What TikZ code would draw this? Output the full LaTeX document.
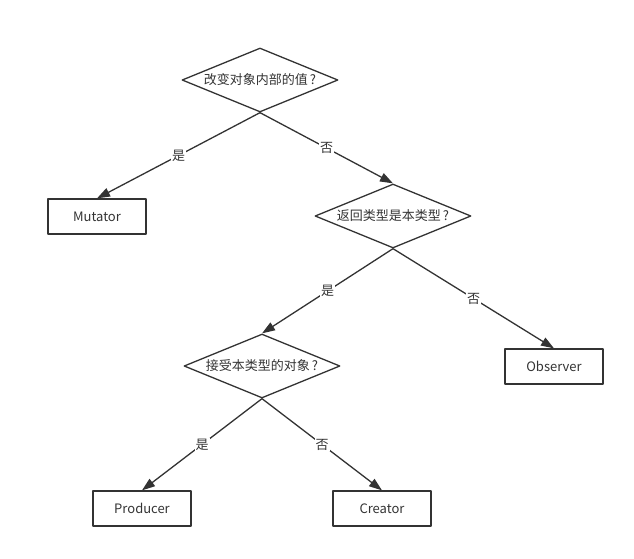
\documentclass[tikz,border=0pt]{standalone}
\usepackage{fontspec}
\setmainfont{Noto Sans CJK SC}
\usetikzlibrary{shapes.geometric,arrows.meta}
\definecolor{ink}{HTML}{333333}
\begin{document}
\begin{tikzpicture}[x=1pt,y=-1pt, font=\fontsize{13}{15}\selectfont, line join=round,
	ask/.style={draw=ink,diamond,aspect=2.44,inner sep=0pt,minimum width=156pt,minimum height=64pt,line width=1.3pt,text=ink},
	leaf/.style={draw=ink,rectangle,minimum width=98pt,minimum height=35pt,line width=1.3pt,text=ink},
	go/.style={draw=ink,line width=1.3pt,-{Triangle[length=13pt,width=9pt]}},
	tag/.style={midway,fill=white,inner sep=1pt,text=ink}]
	\useasboundingbox (0,0) rectangle (634,558);
	% decisions
	\node[ask] (q1) at (260,80) {改变对象内部的值\,?};
	\node[ask] (q2) at (393,216) {返回类型是本类型\,?};
	\node[ask] (q3) at (262,366) {接受本类型的对象\,?};
	% answers
	\node[leaf] (mut) at (97,216.5) {Mutator};
	\node[leaf] (obs) at (554,366.5) {Observer};
	\node[leaf] (pro) at (142,508.5) {Producer};
	\node[leaf] (cre) at (382,508.5) {Creator};
	% arrows
	\draw[go] (q1.south) -- (mut.north) node[tag]{是};
	\draw[go] (q1.south) -- (q2.north) node[tag]{否};
	\draw[go] (q2.south) -- (q3.north) node[tag]{是};
	\draw[go] (q2.south) -- (obs.north) node[tag]{否};
	\draw[go] (q3.south) -- (pro.north) node[tag]{是};
	\draw[go] (q3.south) -- (cre.north) node[tag]{否};
\end{tikzpicture}
\end{document}
